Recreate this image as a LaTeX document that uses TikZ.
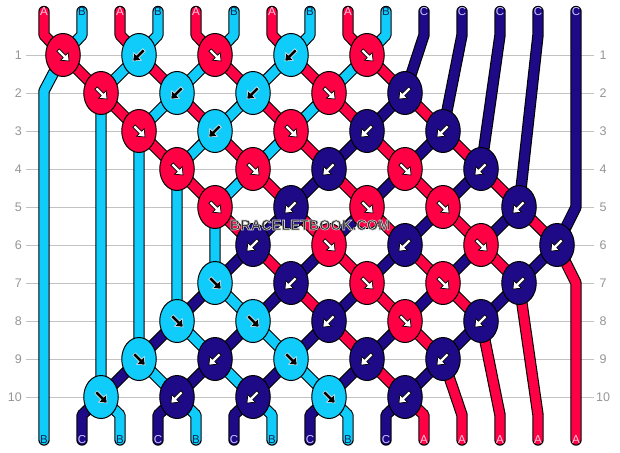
\documentclass[tikz,border=0pt]{standalone}
\usepackage{fontspec}
\setmainfont{Liberation Sans}
\usetikzlibrary{shapes.geometric}
\definecolor{cR}{RGB}{255,0,68}
\definecolor{cB}{RGB}{16,204,250}
\definecolor{cN}{RGB}{30,10,135}
\definecolor{gridc}{RGB}{195,195,195}
\definecolor{labc}{RGB}{150,150,150}
\definecolor{letA}{RGB}{255,205,225}
\definecolor{letB}{RGB}{10,40,80}
\definecolor{letC}{RGB}{200,200,255}
\definecolor{wmtext}{RGB}{45,45,45}
\pgfdeclarelayer{gridlayer}
\pgfdeclarelayer{strandlayer}
\pgfsetlayers{gridlayer,strandlayer,main}
\tikzset{
 knot/.style={ellipse, draw=black, line width=1pt, minimum width=34.5pt, minimum height=43pt, inner sep=0pt},
 arrR/.style={fill=white, draw=black, line width=0.7pt},
 arrN/.style={fill=white, draw=black, line width=0.7pt},
 arrB/.style={fill=black, draw=white, line width=0.5pt},
 karrow/.pic={\path[pic actions] (-7,-1.7) -- (2,-1.7) -- (2,-5.4) -- (8.5,0) -- (2,5.4) -- (2,1.7) -- (-7,1.7) -- cycle;},
 souter/.style={line width=11.4pt, draw=black, line cap=round, line join=bevel},
 sinner/.style={line width=9.2pt, line cap=round, line join=bevel},
 endlab/.style={font=\fontsize{11.5}{12}\selectfont, inner sep=0pt},
 rowlab/.style={font=\fontsize{12.5}{13}\selectfont, text=labc, inner sep=0pt},
 wmark/.style={font=\bfseries\fontsize{14.5}{14.5}\selectfont, inner sep=0pt, text=wmtext},
}
\newcommand\kn[4]{\node[knot, fill=c#3] (k#1-#2) at ({25+38*#2},{17+38*#1}) {};
 \pic[rotate=#4, arr#3] at (k#1-#2.center) {karrow};}
\newcommand\strand[2]{\draw[souter] #2; \draw[sinner, draw=c#1] #2;}
\newcommand\toplab[2]{\node[endlab, text=let#2] (t#1) at ({6+38*#1},11.5) {#2};}
\newcommand\botlab[2]{\node[endlab, text=let#2] (b#1) at ({6+38*#1},440) {#2};}
\begin{document}
\begin{tikzpicture}[x=1pt,y=-1pt]
\useasboundingbox (0,0) rectangle (620,452);
\begin{pgfonlayer}{gridlayer}
\fill[white] (0,0) rectangle (620,452);
\foreach \r in {1,...,10}{
 \node[rowlab, anchor=east] (rl\r) at (22,{17+38*\r}) {\r};
 \node[rowlab] (rr\r) at (603,{17+38*\r}) {\r};
 \draw[gridc, line width=1pt] (26,{17+38*\r}) -- (594,{17+38*\r});
}
\end{pgfonlayer}
% end labels
\toplab{1}{A}\toplab{2}{B}\toplab{3}{A}\toplab{4}{B}\toplab{5}{A}\toplab{6}{B}\toplab{7}{A}\toplab{8}{B}\toplab{9}{A}\toplab{10}{B}
\toplab{11}{C}\toplab{12}{C}\toplab{13}{C}\toplab{14}{C}\toplab{15}{C}
\botlab{1}{B}\botlab{2}{C}\botlab{3}{B}\botlab{4}{C}\botlab{5}{B}\botlab{6}{C}\botlab{7}{B}\botlab{8}{C}\botlab{9}{B}\botlab{10}{C}
\botlab{11}{A}\botlab{12}{A}\botlab{13}{A}\botlab{14}{A}\botlab{15}{A}
% knots
\kn{1}{1}{R}{-45} \kn{1}{3}{B}{-135} \kn{1}{5}{R}{-45} \kn{1}{7}{B}{-135} \kn{1}{9}{R}{-45}
\kn{2}{2}{R}{-45} \kn{2}{4}{B}{-135} \kn{2}{6}{B}{-135} \kn{2}{8}{R}{-45} \kn{2}{10}{N}{-135}
\kn{3}{3}{R}{-45} \kn{3}{5}{B}{-135} \kn{3}{7}{R}{-45} \kn{3}{9}{N}{-135} \kn{3}{11}{N}{-135}
\kn{4}{4}{R}{-45} \kn{4}{6}{R}{-45} \kn{4}{8}{N}{-135} \kn{4}{10}{R}{-45} \kn{4}{12}{N}{-135}
\kn{5}{5}{R}{-45} \kn{5}{7}{N}{-135} \kn{5}{9}{R}{-45} \kn{5}{11}{R}{-45} \kn{5}{13}{N}{-135}
\kn{6}{6}{N}{-135} \kn{6}{8}{R}{-45} \kn{6}{10}{N}{-135} \kn{6}{12}{R}{-45} \kn{6}{14}{N}{-135}
\kn{7}{5}{B}{-45} \kn{7}{7}{N}{-135} \kn{7}{9}{R}{-45} \kn{7}{11}{R}{-45} \kn{7}{13}{N}{-135}
\kn{8}{4}{B}{-45} \kn{8}{6}{B}{-45} \kn{8}{8}{N}{-135} \kn{8}{10}{R}{-45} \kn{8}{12}{N}{-135}
\kn{9}{3}{B}{-45} \kn{9}{5}{N}{-135} \kn{9}{7}{B}{-45} \kn{9}{9}{N}{-135} \kn{9}{11}{N}{-135}
\kn{10}{2}{B}{-45} \kn{10}{4}{N}{-135} \kn{10}{6}{N}{-135} \kn{10}{8}{B}{-45} \kn{10}{10}{N}{-135}
% strands
\begin{pgfonlayer}{strandlayer}
\strand{R}{(t1.center) -- (44,35) -- (k1-1.center) -- (k2-2.center) -- (k3-3.center) -- (k4-4.center) -- (k5-5.center) -- (k6-6.center) -- (k7-7.center) -- (k8-8.center) -- (k9-9.center) -- (k10-10.center) -- (424,415) -- (b11.center)}
\strand{B}{(t2.center) -- (82,35) -- (k1-1.center) -- (44,91) -- (b1.center)}
\strand{R}{(t3.center) -- (120,35) -- (k1-3.center) -- (k2-4.center) -- (k3-5.center) -- (k4-6.center) -- (k5-7.center) -- (k6-8.center) -- (k7-9.center) -- (k8-10.center) -- (k9-11.center) -- (462,415) -- (b12.center)}
\strand{B}{(t4.center) -- (158,35) -- (k1-3.center) -- (k2-2.center) -- (k10-2.center) -- (120,415) -- (b3.center)}
\strand{R}{(t5.center) -- (196,35) -- (k1-5.center) -- (k2-6.center) -- (k3-7.center) -- (k4-8.center) -- (k5-9.center) -- (k6-10.center) -- (k7-11.center) -- (k8-12.center) -- (500,415) -- (b13.center)}
\strand{B}{(t6.center) -- (234,35) -- (k1-5.center) -- (k2-4.center) -- (k3-3.center) -- (k9-3.center) -- (k10-4.center) -- (196,415) -- (b5.center)}
\strand{R}{(t7.center) -- (272,35) -- (k1-7.center) -- (k2-8.center) -- (k3-9.center) -- (k4-10.center) -- (k5-11.center) -- (k6-12.center) -- (k7-13.center) -- (538,415) -- (b14.center)}
\strand{B}{(t8.center) -- (310,35) -- (k1-7.center) -- (k2-6.center) -- (k3-5.center) -- (k4-4.center) -- (k8-4.center) -- (k9-5.center) -- (k10-6.center) -- (272,415) -- (b7.center)}
\strand{R}{(t9.center) -- (348,35) -- (k1-9.center) -- (k2-10.center) -- (k3-11.center) -- (k4-12.center) -- (k5-13.center) -- (k6-14.center) -- (576,283) -- (b15.center)}
\strand{B}{(t10.center) -- (386,35) -- (k1-9.center) -- (k2-8.center) -- (k3-7.center) -- (k4-6.center) -- (k5-5.center) -- (k7-5.center) -- (k8-6.center) -- (k9-7.center) -- (k10-8.center) -- (348,415) -- (b9.center)}
\strand{N}{(t11.center) -- (424,35) -- (k2-10.center) -- (k3-9.center) -- (k4-8.center) -- (k5-7.center) -- (k6-6.center) -- (k7-5.center) -- (k8-4.center) -- (k9-3.center) -- (k10-2.center) -- (82,415) -- (b2.center)}
\strand{N}{(t12.center) -- (462,35) -- (k3-11.center) -- (k4-10.center) -- (k5-9.center) -- (k6-8.center) -- (k7-7.center) -- (k8-6.center) -- (k9-5.center) -- (k10-4.center) -- (158,415) -- (b4.center)}
\strand{N}{(t13.center) -- (500,35) -- (k4-12.center) -- (k5-11.center) -- (k6-10.center) -- (k7-9.center) -- (k8-8.center) -- (k9-7.center) -- (k10-6.center) -- (234,415) -- (b6.center)}
\strand{N}{(t14.center) -- (538,35) -- (k5-13.center) -- (k6-12.center) -- (k7-11.center) -- (k8-10.center) -- (k9-9.center) -- (k10-8.center) -- (310,415) -- (b8.center)}
\strand{N}{(t15.center) -- (576,207) -- (k6-14.center) -- (k7-13.center) -- (k8-12.center) -- (k9-11.center) -- (k10-10.center) -- (386,415) -- (b10.center)}
\end{pgfonlayer}
% watermark: filled text with a light stroked outline
\node[wmark] (wm) at (310,225) {\special{pdf:literal direct 2 Tr 0.6 w 0.82 0.82 0.82 RG}BRACELETBOOK.COM\special{pdf:literal direct 0 Tr}};
\end{tikzpicture}
\end{document}
